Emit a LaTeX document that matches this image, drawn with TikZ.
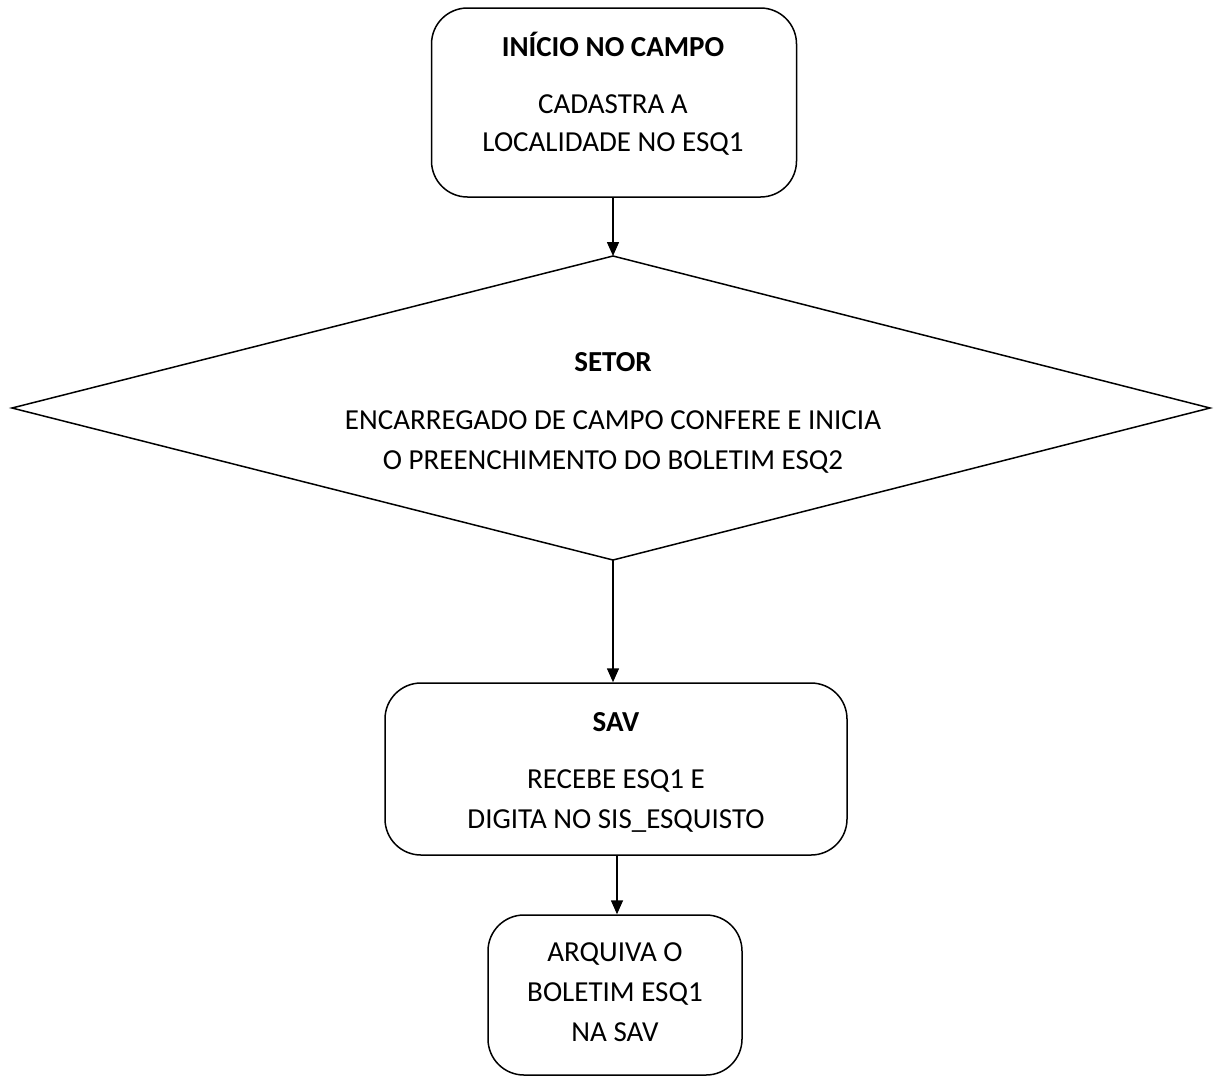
\documentclass[tikz,border=0pt]{standalone}
\usepackage{fontspec}
\setmainfont{Carlito}
\usetikzlibrary{arrows.meta}
\begin{document}
\begin{tikzpicture}[x=1pt,y=-1pt,
  box/.style={draw, line width=1.5pt, rounded corners=36pt, inner sep=0pt},
  lbl/.style={anchor=base, inner sep=0pt, font=\fontsize{29}{35}\selectfont},
  ttl/.style={lbl, font=\fontsize{29}{35}\selectfont\bfseries},
  arr/.style={line width=1.5pt, -{Triangle[length=14pt,width=12pt]}}]
\useasboundingbox (0,0) rectangle (1214,1077);
% boxes
\node[box, minimum width=365pt, minimum height=189pt] (b1) at (614,102.5) {};
\node[box, minimum width=462pt, minimum height=172pt] (b3) at (616,769) {};
\node[box, minimum width=254pt, minimum height=160pt] (b4) at (615,995) {};
% diamond
\coordinate (dt) at (613,256);
\coordinate (dl) at (12,408);
\coordinate (dr) at (1210,408);
\coordinate (db) at (613,560);
\draw[line width=1.5pt, line join=miter] (dt) -- (dr) -- (db) -- (dl) -- cycle;
% texts
\node[ttl] (t1a) at (613,56) {INÍCIO NO CAMPO};
\node[lbl] (t1b) at (613,113) {CADASTRA A};
\node[lbl] (t1c) at (613,151) {LOCALIDADE NO ESQ1};
\node[ttl] (t2a) at (613,371) {SETOR};
\node[lbl] (t2b) at (613,429) {ENCARREGADO DE CAMPO CONFERE E INICIA};
\node[lbl] (t2c) at (613,469) {O PREENCHIMENTO DO BOLETIM ESQ2};
\node[ttl] (t3a) at (616,731) {SAV};
\node[lbl] (t3b) at (616,788) {RECEBE ESQ1 E};
\node[lbl] (t3c) at (616,828) {DIGITA NO SIS\_ESQUISTO};
\node[lbl] (t4a) at (615,961) {ARQUIVA O};
\node[lbl] (t4b) at (615,1001) {BOLETIM ESQ1};
\node[lbl] (t4c) at (615,1041) {NA SAV};
% connectors
\draw[arr] (b1.south -| dt) -- (dt);
\draw[arr] (db) -- (db |- b3.north);
\draw[arr] ([xshift=1pt]b3.south) -- ([xshift=2pt]b4.north);
\end{tikzpicture}
\end{document}
